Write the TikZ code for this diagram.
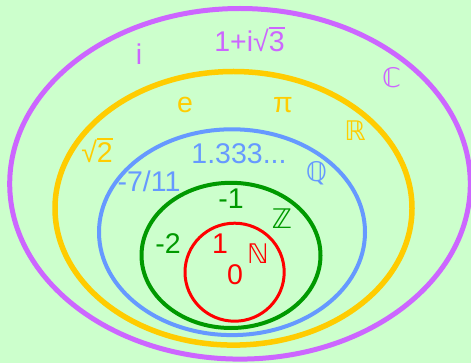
\documentclass[tikz,border=0pt]{standalone}
\usepackage{fontspec}
\setmainfont{Liberation Sans}
\newfontfamily\dsfont{DejaVu Sans}
\usetikzlibrary{positioning}

\definecolor{bgGreen}{HTML}{CCFFCC}
\definecolor{setC}{HTML}{CC66FF}
\definecolor{setR}{HTML}{FFCC00}
\definecolor{setQ}{HTML}{6699FF}
\definecolor{setZ}{HTML}{009900}
\definecolor{setN}{HTML}{FF0000}

% radical with its bar carried over the digit
\newcommand{\rootbar}[1]{√\rlap{\rule[0.80em]{0.556em}{0.065em}}#1}

\begin{document}
\begin{tikzpicture}[
    x=1pt, y=-1pt,
    numlabel/.style={
      font=\fontsize{28.5}{32}\selectfont,
      anchor=base,
      inner sep=0pt,
    },
    setname/.style={
      font=\dsfont\fontsize{27}{32}\selectfont,
      anchor=base,
      inner sep=0pt,
    },
  ]

  % --- Background ---
  \fill[bgGreen] (0,0) rectangle (471,363);
  \useasboundingbox (0,0) rectangle (471,363);

  % --- Nested sets (outermost first) ---
  \draw[setC, line width=5pt] (240,183.8) ellipse [x radius=230.3pt, y radius=175.3pt];
  \draw[setR, line width=5.5pt] (233.5,208.3) ellipse [x radius=178.5pt, y radius=136.8pt];
  \draw[setQ, line width=4pt] (232,232.2) ellipse [x radius=133pt, y radius=102.9pt];
  \draw[setZ, line width=4pt] (231,255.4) ellipse [x radius=89.5pt, y radius=72.6pt];
  \draw[setN, line width=3pt] (234.6,272.2) ellipse [x radius=49.6pt, y radius=49pt];

  % --- Complex numbers ---
  \node[numlabel, text=setC] (Ci) at (139,65) {i};
  \node[numlabel, text=setC] (Cz) at (249.5,52) {1+i\rootbar{3}};
  \node[setname, text=setC] (Cname) at (391.5,88) {ℂ};

  % --- Real numbers ---
  \node[numlabel, text=setR] (Re) at (185,113) {e};
  \node[numlabel, text=setR] (Rpi) at (283,113) {π};
  \node[numlabel, text=setR] (Rsqrt) at (97,163) {\rootbar{2}};
  \node[setname, text=setR] (Rname) at (355,141) {ℝ};

  % --- Rational numbers ---
  \node[numlabel, text=setQ] (Qdec) at (239,164) {1.333...};
  \node[numlabel, text=setQ] (Qfrac) at (149,192) {-7/11};
  \node[setname, text=setQ] (Qname) at (316.5,182) {ℚ};

  % --- Integers ---
  \node[numlabel, text=setZ] (Zm1) at (231,209) {-1};
  \node[numlabel, text=setZ] (Zm2) at (168,254) {-2};
  \node[setname, text=setZ] (Zname) at (282,229) {ℤ};

  % --- Natural numbers ---
  \node[numlabel, text=setN] (None) at (220,254) {1};
  \node[numlabel, text=setN] (Nzero) at (235,285) {0};
  \node[setname, text=setN] (Nname) at (258,264) {ℕ};

\end{tikzpicture}
\end{document}
